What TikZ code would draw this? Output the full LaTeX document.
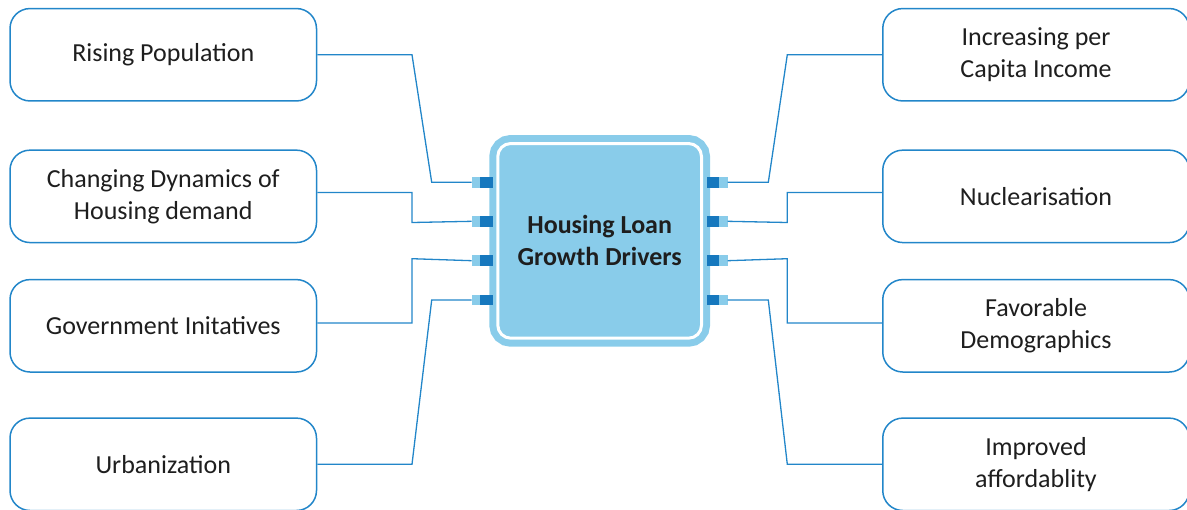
\documentclass[tikz,border=0pt]{standalone}
\usepackage{fontspec}
\setmainfont{Carlito}
\definecolor{linkblue}{RGB}{34,134,201}
\definecolor{hubblue}{RGB}{137,204,234}
\definecolor{pinblue}{RGB}{22,120,190}
\definecolor{ink}{RGB}{30,30,30}
\begin{document}
\begin{tikzpicture}[x=0.5pt,y=-0.5pt,
    driver/.style={draw=linkblue,line width=0.75pt,rounded corners=10pt,
      minimum width=153.25pt,minimum height=46.2pt,inner sep=0pt,
      align=center,text=ink,font=\fontsize{13}{16}\selectfont},
    hub/.style={fill=hubblue,draw=hubblue,double=white,double distance=1.5pt,
      line width=3.5pt,rounded corners=6.5pt,minimum width=101.85pt,
      minimum height=97.35pt,inner sep=0pt,align=center,text=ink,
      font=\fontsize{13}{16}\selectfont\bfseries},
    pinlight/.style={fill=hubblue,minimum width=4.15pt,minimum height=5.35pt,
      inner sep=0pt,outer sep=0pt},
    pindark/.style={fill=pinblue,minimum width=6.35pt,minimum height=5.35pt,
      inner sep=0pt,outer sep=0pt},
    link/.style={draw=linkblue,line width=0.65pt}]
      \useasboundingbox (0,0) rectangle (1187,509);
      \draw
        (163.25,54.75) node[driver] (lb1){Rising Population}
        (163.25,196.35) node[driver] (lb2){Changing Dynamics of\\Housing demand}
        (163.25,325.8) node[driver] (lb3){Government Initatives}
        (163.25,464.3) node[driver] (lb4){Urbanization}
        (1036,54.75) node[driver] (rb1){Increasing per\\Capita Income}
        (1036,196.35) node[driver] (rb2){Nuclearisation}
        (1036,325.8) node[driver] (rb3){Favorable\\Demographics}
        (1036,464.3) node[driver] (rb4){Improved\\affordablity};
      \node[hub] (hub) at (599.65,240.85) {Housing Loan\\Growth Drivers};
      % pins on both sides of the hub
      \node[pinlight] (lpa1) at (475.85,182.3) {};
      \node[pinlight] (lpa2) at (475.85,221.3) {};
      \node[pinlight] (lpa3) at (475.85,260.7) {};
      \node[pinlight] (lpa4) at (475.85,300) {};
      \node[pindark] (lpb1) at (486.35,182.3) {};
      \node[pindark] (lpb2) at (486.35,221.3) {};
      \node[pindark] (lpb3) at (486.35,260.7) {};
      \node[pindark] (lpb4) at (486.35,300) {};
      \node[pindark] (rpb1) at (713,182.3) {};
      \node[pindark] (rpb2) at (713,221.3) {};
      \node[pindark] (rpb3) at (713,260.7) {};
      \node[pindark] (rpb4) at (713,300) {};
      \node[pinlight] (rpa1) at (723.5,182.3) {};
      \node[pinlight] (rpa2) at (723.5,221.3) {};
      \node[pinlight] (rpa3) at (723.5,260.7) {};
      \node[pinlight] (rpa4) at (723.5,300) {};
      \begin{scope}[link]
        \draw (lb1.east) -- (412,54.75) -- (431.7,182.3) -- (lpa1.west);
        \draw (lb2.east |- 0,192.5) -- (412,192.5) -- (412,222.5) -- (lpa2.west);
        \draw (lb3.east |- 0,323) -- (412,323) -- (412,258.7) -- (lpa3.west);
        \draw (lb4.east) -- (412,464.3) -- (431.7,300) -- (lpa4.west);
        \draw (rpa1.east) -- (768.3,182.3) -- (787.3,54.75) -- (rb1.west);
        \draw (rpa2.east) -- (787.3,222.5) -- (787.3,192.5) -- (rb2.west |- 0,192.5);
        \draw (rpa3.east) -- (787.3,258.7) -- (787.3,323) -- (rb3.west |- 0,323);
        \draw (rpa4.east) -- (768.3,300) -- (787.3,464.3) -- (rb4.west);
      \end{scope}
    \end{tikzpicture}
\end{document}
